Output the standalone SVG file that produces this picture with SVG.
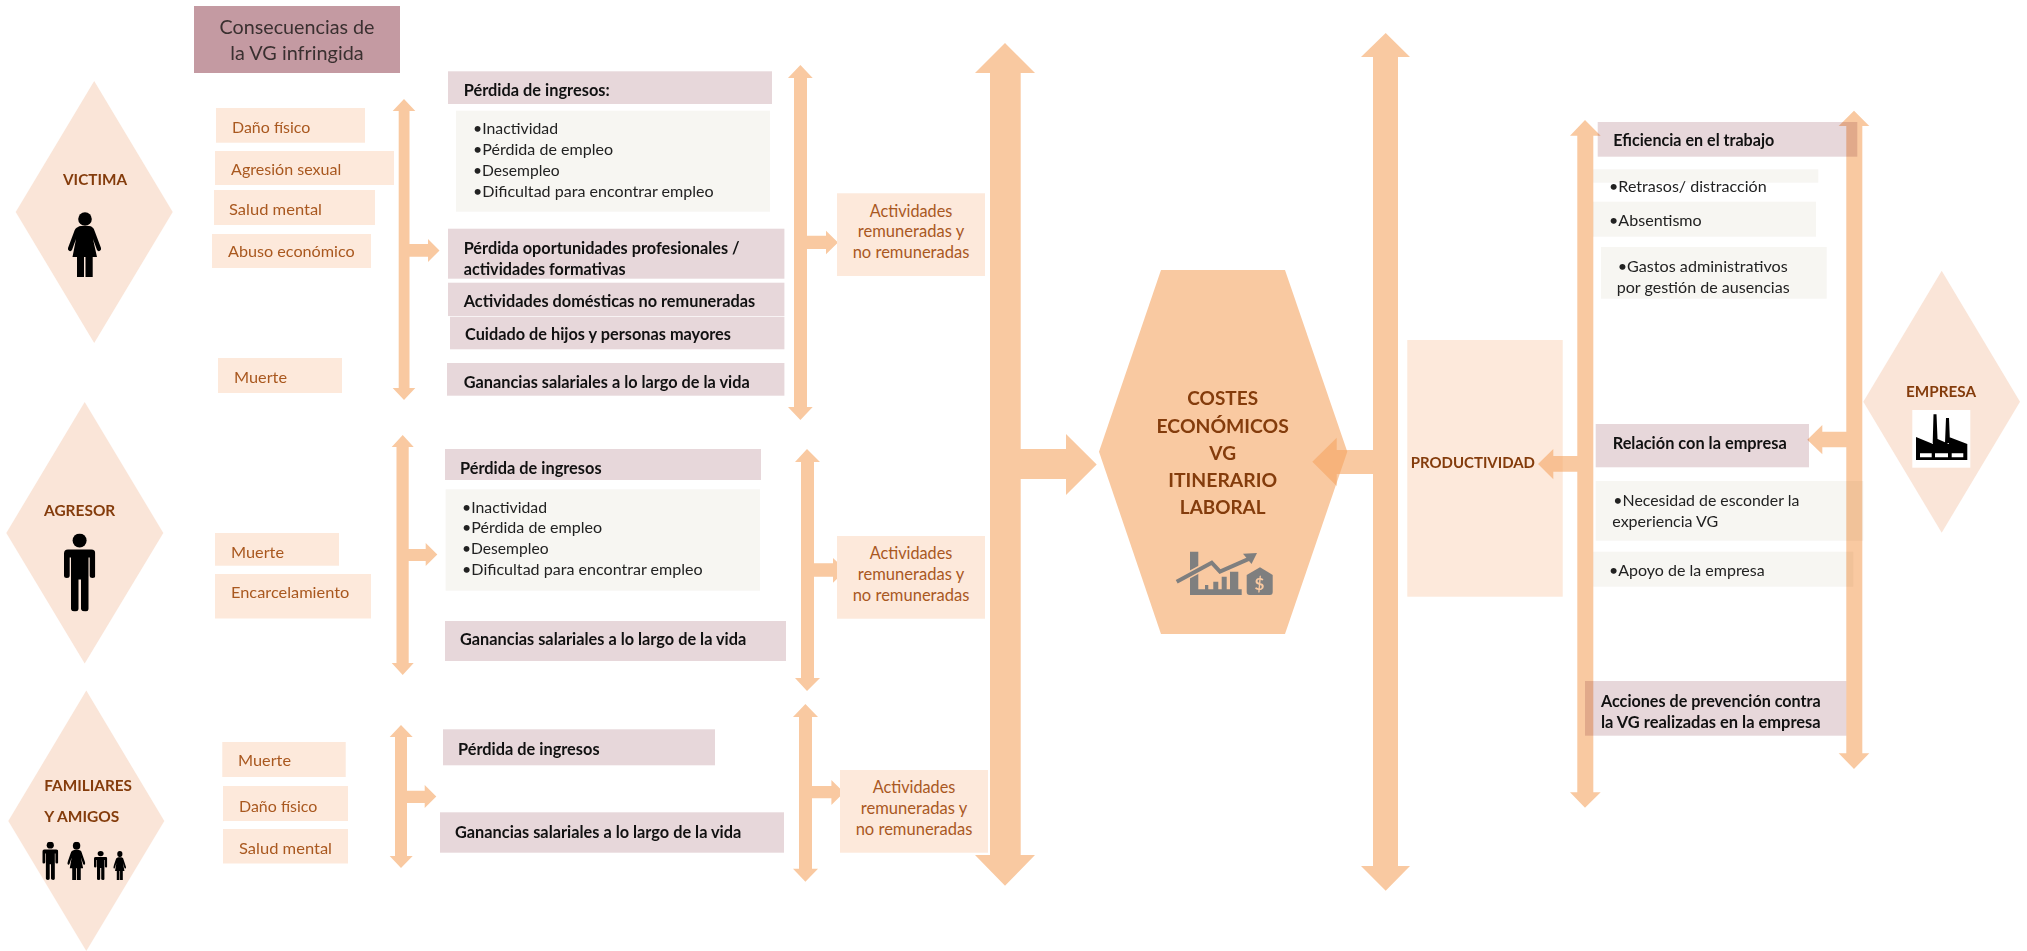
<svg xmlns="http://www.w3.org/2000/svg" width="2027" height="951" viewBox="0 0 2027 951">
<style>
text{font-family:"Lato","Liberation Sans",sans-serif}
.dia{fill:#FAE5D8}
.peach{fill:#FDE9DB}
.pink{fill:#E7D7DA;mix-blend-mode:multiply}
.light{fill:#F7F6F2;mix-blend-mode:multiply}
.arrow{fill:#F5A562;fill-opacity:.6}
.o{font-size:16px;fill:#A9581F}
.oc{font-size:17px;fill:#A9581F;text-anchor:middle}
.k{font-size:16px;fill:#222}
.kb{font-size:16.4px;font-weight:700;fill:#111;transform:translateY(1px)}
.h{font-size:15.6px;font-weight:700;fill:#843C0C}
.big{font-size:19.5px;font-weight:700;fill:#843C0C;text-anchor:middle}
.gr{fill:#7F7F7F}
</style>
<defs>
<symbol id="man" viewBox="0 0 31.3 78" preserveAspectRatio="none"><circle cx="15.6" cy="7" r="7"/><path d="M4 16H27.3Q31.3 16 31.3 20V42Q31.3 44.5 28.5 44.5Q25.7 44.5 25.7 42V24H24.5V75Q24.5 78 21.5 78Q17 78 17 75V46H14.5V75Q14.5 78 11 78Q7 78 7 75V24H5.7V42Q5.7 44.5 2.800 44.5Q0 44.5 0 42V20Q0 16 4 16Z"/></symbol>
<symbol id="woman" viewBox="0 0 33 65" preserveAspectRatio="none"><circle cx="17" cy="7" r="6.8"/><path d="M10 15Q11 14 13 14H21Q23 14 24 15Q26 16 27 20L33 36Q33.5 38 31.5 39Q30 39.500 29 38L25 27L29 45H24.700V65H17.500V45H16V65H9V45H4.500L8 27L4 38Q3 39.500 1.500 39Q-.5 38 0 36L6 20Q7 16 10 15Z"/></symbol>
</defs>
<rect width="2027" height="951" fill="#fff"/>

<g id="node-victima"><polygon class="dia" points="94.200,81 172.700,212 94.200,343 15.700,212"/><text class="h" x="63" y="185" textLength="64" lengthAdjust="spacingAndGlyphs">VICTIMA</text><use href="#woman" x="68" y="212" width="33" height="65"/></g>
<g id="node-agresor"><polygon class="dia" points="84.700,402 163.300,533 84.700,663.500 6.300,533"/><text class="h" x="44" y="516" textLength="71.300" lengthAdjust="spacingAndGlyphs">AGRESOR</text><use href="#man" x="64" y="533.500" width="31.300" height="78"/></g>
<g id="node-familiares"><polygon class="dia" points="86.300,690.600 164.300,821 86.300,951 8.300,821"/><text class="h" x="44.300" y="790.700" textLength="87.700" lengthAdjust="spacingAndGlyphs">FAMILIARES</text><text class="h" x="44.300" y="821.600" textLength="75" lengthAdjust="spacingAndGlyphs">Y AMIGOS</text><use href="#man" x="42.300" y="841.700" width="16" height="38.300"/><use href="#woman" x="67.300" y="841.700" width="18" height="38.300"/><use href="#man" x="94" y="851" width="13.300" height="29"/><use href="#woman" x="113.300" y="851" width="12.700" height="29"/></g>
<g id="node-empresa"><polygon class="dia" points="1941.700,270.700 2020,401.700 1941.700,532.700 1863.300,401.700"/><text class="h" x="1906" y="396.700" textLength="70" lengthAdjust="spacingAndGlyphs">EMPRESA</text><rect x="1912.300" y="410" width="58" height="57.700" fill="#fff"/><path d="M1932.700 443L1933.500 414.300H1936.500L1937.700 443ZM1945 443L1946 418H1949L1950 443ZM1916 437L1933 444V437L1949 444V437L1967.300 444V460H1916Z"/><path fill="#fff" d="M1920 453.300H1931.700V457.300H1920ZM1935 453.300H1948V457.300H1935ZM1951.700 453.300H1963.300V457.300H1951.700Z"/></g>
<g id="node-costes"><polygon points="1161,270 1285,270 1347.300,451.700 1285,634 1161,634 1099,451.700" fill="#F9C9A1"/><text class="big" x="1222.700" y="405" textLength="70.700" lengthAdjust="spacingAndGlyphs">COSTES</text><text class="big" x="1222.700" y="432.700" textLength="132.300" lengthAdjust="spacingAndGlyphs">ECONÓMICOS</text><text class="big" x="1222.700" y="460" textLength="26.700" lengthAdjust="spacingAndGlyphs">VG</text><text class="big" x="1222.700" y="486.700" textLength="109" lengthAdjust="spacingAndGlyphs">ITINERARIO</text><text class="big" x="1222.700" y="514" textLength="85.700" lengthAdjust="spacingAndGlyphs">LABORAL</text>
<path class="gr" d="M1190 551.700H1198.300V595H1190ZM1190 589.300H1241.700V595H1190ZM1205 585H1208.300V590H1205ZM1213.300 581.700H1218.300V590H1213.300ZM1221.700 576.700H1226.700V590H1221.700ZM1230 571.700H1238.300V590H1230Z"/><polyline points="1176.700,581.700 1211.700,562.700 1220,571.700 1250,558.300" fill="none" stroke="#F9C9A1" stroke-width="7"/><polyline points="1176.700,581.700 1211.700,562.700 1220,571.700 1250,558.300" fill="none" stroke="#7F7F7F" stroke-width="4"/><polygon class="gr" points="1257,553 1243,553.700 1251.500,564"/><path class="gr" d="M1260 567.300L1272.700 575V592Q1272.700 595 1269.700 595H1249.700Q1246.700 595 1246.700 592V575Z"/><text x="1259.500" y="590" font-size="17" font-weight="700" fill="#F9C9A1" text-anchor="middle">$</text></g>
<g id="node-productividad"><rect class="peach" x="1407.300" y="340" width="155.400" height="256.700"/><text class="h" x="1410.700" y="468.300" textLength="124.300" lengthAdjust="spacingAndGlyphs">PRODUCTIVIDAD</text></g>

<g id="connectors">
<polygon class="arrow" points="404,99 415.300,111 409.500,111 409.500,244 428,244 428,239 439.500,250.500 428,262 428,256.700 409.500,256.700 409.500,388 415.300,388 404,400 392.700,388 398.700,388 398.700,111 392.700,111"/>
<polygon class="arrow" points="402.700,435 413.700,447 408.700,447 408.700,549 425.700,549 425.700,543 437.300,554.500 425.700,566 425.700,561 408.700,561 408.700,663 413.700,663 402.700,675 391.700,663 396.500,663 396.500,447 391.700,447"/>
<polygon class="arrow" points="401,725 412.700,737 407,737 407,790.700 424.700,790.700 424.700,785 436.300,796.500 424.700,808 424.700,803 407,803 407,856 412.700,856 401,868 389.700,856 395,856 395,737 389.700,737"/>
<polygon class="arrow" points="800.400,65 812.700,78 807,78 807,235.700 826,235.700 826,230.700 838,242.500 826,254.300 826,249 807,249 807,407 812.700,407 800.400,420 788,407 794,407 794,78 788,78"/>
<polygon class="arrow" points="807,449 820,462 814,462 814,563.300 833,563.300 833,558 846,570.300 833,582.700 833,576.700 814,576.700 814,678 820,678 807,691 795,678 801,678 801,462 795,462"/>
<polygon class="arrow" points="805.400,704 818,717 812,717 812,786 831.400,786 831.400,780 844,792.500 831.400,805 831.400,798.300 812,798.300 812,868.700 818,868.700 805.400,881.700 793,868.700 799,868.700 799,717 793,717"/>
<polygon class="arrow" points="1005,43 1035,73 1020.700,73 1020.700,449 1066,449 1066,434 1096.700,464.500 1066,495 1066,479 1020.700,479 1020.700,855 1035,855 1005,885.700 975,855 990,855 990,73 975,73"/>
<polygon class="arrow" points="1385.700,33 1410,57 1398,57 1398,866 1410,866 1385.700,890.700 1361,866 1373,866 1373,474 1336.700,474 1336.700,486 1312.300,461.800 1336.700,437.700 1336.700,450 1373,450 1373,57 1361,57"/>
<polygon class="arrow" points="1585,120 1600.700,135.700 1593.300,135.700 1593.300,792.300 1600.700,792.300 1585,807.700 1570,792.300 1577.300,792.300 1577.300,471.700 1553.300,471.700 1553.300,479.300 1538,464 1553.300,449 1553.300,456 1577.300,456 1577.300,135.700 1570,135.700"/>
<polygon class="arrow" points="1854,110.700 1869.300,126 1862.300,126 1862.300,753.300 1869.300,753.300 1854,769 1838.700,753.300 1846.300,753.300 1846.300,447.300 1822.300,447.300 1822.300,454.300 1807.300,439.700 1822.300,425 1822.300,431.700 1846.300,431.700 1846.300,126 1838.700,126"/>
</g>

<g id="node-title"><rect x="194" y="6" width="206" height="67" fill="#C49AA2"/><text x="297" y="34" font-size="19.500" fill="#3A3030" text-anchor="middle" textLength="155" lengthAdjust="spacingAndGlyphs">Consecuencias de</text><text x="297" y="60" font-size="19.500" fill="#3A3030" text-anchor="middle" textLength="133.300" lengthAdjust="spacingAndGlyphs">la VG infringida</text></g>

<g id="node-v1"><rect class="peach" x="216" y="108" width="149" height="34.700"/><text class="o" x="232" y="133" textLength="78.300" lengthAdjust="spacingAndGlyphs">Daño físico</text></g>
<g id="node-v2"><rect class="peach" x="215" y="151" width="179" height="34"/><text class="o" x="231" y="175" textLength="110.300" lengthAdjust="spacingAndGlyphs">Agresión sexual</text></g>
<g id="node-v3"><rect class="peach" x="214" y="190" width="161" height="35"/><text class="o" x="229" y="215" textLength="93" lengthAdjust="spacingAndGlyphs">Salud mental</text></g>
<g id="node-v4"><rect class="peach" x="212" y="234" width="159" height="34"/><text class="o" x="228" y="257" textLength="126.700" lengthAdjust="spacingAndGlyphs">Abuso económico</text></g>
<g id="node-v5"><rect class="peach" x="218" y="358" width="124" height="35"/><text class="o" x="234" y="383" textLength="53" lengthAdjust="spacingAndGlyphs">Muerte</text></g>
<g id="node-a1"><rect class="peach" x="215" y="533" width="124" height="32.700"/><text class="o" x="231" y="558" textLength="53" lengthAdjust="spacingAndGlyphs">Muerte</text></g>
<g id="node-a2"><rect class="peach" x="215" y="574" width="156" height="44.500"/><text class="o" x="231" y="598" textLength="118.300" lengthAdjust="spacingAndGlyphs">Encarcelamiento</text></g>
<g id="node-f1"><rect class="peach" x="222.300" y="742" width="123.400" height="35"/><text class="o" x="238" y="765.500" textLength="53" lengthAdjust="spacingAndGlyphs">Muerte</text></g>
<g id="node-f2"><rect class="peach" x="223" y="786" width="125" height="35"/><text class="o" x="239" y="812" textLength="78.300" lengthAdjust="spacingAndGlyphs">Daño físico</text></g>
<g id="node-f3"><rect class="peach" x="223" y="829" width="125" height="34.500"/><text class="o" x="239" y="853.500" textLength="93" lengthAdjust="spacingAndGlyphs">Salud mental</text></g>

<g id="node-p1"><rect class="pink" x="448" y="71.300" width="324" height="32.700"/><text class="kb" x="463.700" y="95" textLength="146" lengthAdjust="spacingAndGlyphs">Pérdida de ingresos:</text></g>
<g id="node-l1"><rect class="light" x="456" y="110.700" width="314" height="101"/><text class="k" x="473" y="134.300" textLength="85" lengthAdjust="spacingAndGlyphs">•Inactividad</text><text class="k" x="473" y="155" textLength="140" lengthAdjust="spacingAndGlyphs">•Pérdida de empleo</text><text class="k" x="473" y="175.700" textLength="86.500" lengthAdjust="spacingAndGlyphs">•Desempleo</text><text class="k" x="473" y="196.700" textLength="240.700" lengthAdjust="spacingAndGlyphs">•Dificultad para encontrar empleo</text></g>
<g id="node-p2"><rect class="pink" x="448" y="228.700" width="336.400" height="50"/><text class="kb" x="463.700" y="253.300" textLength="276" lengthAdjust="spacingAndGlyphs">Pérdida oportunidades profesionales /</text><text class="kb" x="463.700" y="274" textLength="162" lengthAdjust="spacingAndGlyphs">actividades formativas</text></g>
<g id="node-p3"><rect class="pink" x="448" y="282.700" width="336.400" height="33.300"/><text class="kb" x="463.700" y="306" textLength="291.600" lengthAdjust="spacingAndGlyphs">Actividades domésticas no remuneradas</text></g>
<g id="node-p4"><rect class="pink" x="450" y="316.700" width="334.400" height="32.600"/><text class="kb" x="465" y="339.300" textLength="266" lengthAdjust="spacingAndGlyphs">Cuidado de hijos y personas mayores</text></g>
<g id="node-p5"><rect class="pink" x="447" y="363" width="337.400" height="32.700"/><text class="kb" x="463.700" y="386.700" textLength="286" lengthAdjust="spacingAndGlyphs">Ganancias salariales a lo largo de la vida</text></g>
<g id="node-act1"><rect class="peach" x="837" y="193.300" width="148" height="82.700"/><text class="oc" x="911" y="216.700" textLength="82.700" lengthAdjust="spacingAndGlyphs">Actividades</text><text class="oc" x="911" y="237.300" textLength="106.400" lengthAdjust="spacingAndGlyphs">remuneradas y</text><text class="oc" x="911" y="258.300" textLength="116.700" lengthAdjust="spacingAndGlyphs">no remuneradas</text></g>

<g id="node-p6"><rect class="pink" x="445" y="449" width="316" height="31"/><text class="kb" x="460" y="473.300" textLength="141.600" lengthAdjust="spacingAndGlyphs">Pérdida de ingresos</text></g>
<g id="node-l2"><rect class="light" x="445.600" y="489.300" width="314.400" height="101.400"/><text class="k" x="462" y="512.700" textLength="85" lengthAdjust="spacingAndGlyphs">•Inactividad</text><text class="k" x="462" y="533.300" textLength="140" lengthAdjust="spacingAndGlyphs">•Pérdida de empleo</text><text class="k" x="462" y="554" textLength="86.500" lengthAdjust="spacingAndGlyphs">•Desempleo</text><text class="k" x="462" y="575" textLength="240.700" lengthAdjust="spacingAndGlyphs">•Dificultad para encontrar empleo</text></g>
<g id="node-p7"><rect class="pink" x="445" y="621" width="341" height="40"/><text class="kb" x="460" y="644.300" textLength="286.300" lengthAdjust="spacingAndGlyphs">Ganancias salariales a lo largo de la vida</text></g>
<g id="node-act2"><rect class="peach" x="837" y="536" width="148" height="82.700"/><text class="oc" x="911" y="559.300" textLength="82.700" lengthAdjust="spacingAndGlyphs">Actividades</text><text class="oc" x="911" y="580" textLength="106.400" lengthAdjust="spacingAndGlyphs">remuneradas y</text><text class="oc" x="911" y="601" textLength="116.700" lengthAdjust="spacingAndGlyphs">no remuneradas</text></g>

<g id="node-p8"><rect class="pink" x="443" y="729.300" width="272" height="36"/><text class="kb" x="458" y="754" textLength="141.600" lengthAdjust="spacingAndGlyphs">Pérdida de ingresos</text></g>
<g id="node-p9"><rect class="pink" x="440" y="812.300" width="344" height="40.400"/><text class="kb" x="455" y="836.700" textLength="286.300" lengthAdjust="spacingAndGlyphs">Ganancias salariales a lo largo de la vida</text></g>
<g id="node-act3"><rect class="peach" x="840" y="770" width="148" height="82.700"/><text class="oc" x="914" y="793.300" textLength="82.700" lengthAdjust="spacingAndGlyphs">Actividades</text><text class="oc" x="914" y="814" textLength="106.400" lengthAdjust="spacingAndGlyphs">remuneradas y</text><text class="oc" x="914" y="835" textLength="116.700" lengthAdjust="spacingAndGlyphs">no remuneradas</text></g>

<g id="node-e1"><rect class="pink" x="1597.700" y="122" width="259.600" height="34.700"/><text class="kb" x="1613.300" y="145" textLength="161" lengthAdjust="spacingAndGlyphs">Eficiencia en el trabajo</text></g>
<g id="node-e2"><rect class="light" x="1593.300" y="169.300" width="225" height="13.400"/><text class="k" x="1609" y="191.700" textLength="157.700" lengthAdjust="spacingAndGlyphs">•Retrasos/ distracción</text></g>
<g id="node-e3"><rect class="light" x="1593" y="201.700" width="223" height="35"/><text class="k" x="1609" y="226" textLength="92.700" lengthAdjust="spacingAndGlyphs">•Absentismo</text></g>
<g id="node-e4"><rect class="light" x="1601" y="247" width="225.700" height="51.700"/><text class="k" x="1617.700" y="271.700" textLength="170" lengthAdjust="spacingAndGlyphs">•Gastos administrativos</text><text class="k" x="1616.700" y="292.700" textLength="173" lengthAdjust="spacingAndGlyphs">por gestión de ausencias</text></g>
<g id="node-e5"><rect class="pink" x="1595.700" y="424" width="213.300" height="43.300"/><text class="kb" x="1612.700" y="448.300" textLength="174" lengthAdjust="spacingAndGlyphs">Relación con la empresa</text></g>
<g id="node-e6"><rect class="light" x="1595.700" y="481" width="267.600" height="59.700"/><text class="k" x="1613.300" y="506" textLength="186" lengthAdjust="spacingAndGlyphs">•Necesidad de esconder la</text><text class="k" x="1612.300" y="526.700" textLength="106" lengthAdjust="spacingAndGlyphs">experiencia VG</text></g>
<g id="node-e7"><rect class="light" x="1593.300" y="551.700" width="260" height="35"/><text class="k" x="1609" y="576" textLength="155.700" lengthAdjust="spacingAndGlyphs">•Apoyo de la empresa</text></g>
<g id="node-e8"><rect class="pink" x="1585" y="681" width="261.300" height="54.700"/><text class="kb" x="1601" y="706" textLength="219.700" lengthAdjust="spacingAndGlyphs">Acciones de prevención contra</text><text class="kb" x="1601" y="726.700" textLength="219.700" lengthAdjust="spacingAndGlyphs">la VG realizadas en la empresa</text></g>
</svg>
